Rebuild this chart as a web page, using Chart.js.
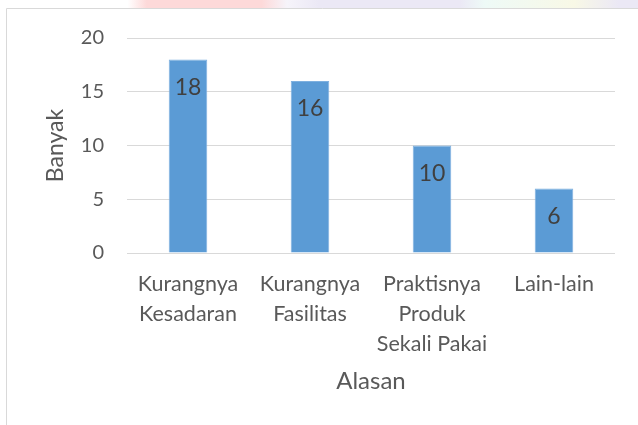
<!DOCTYPE html>
<html>
<head>
<meta charset="utf-8">
<script src="https://cdn.jsdelivr.net/npm/chart.js@4"></script>
<style>
  body { margin: 0; background: #fff; }
  canvas { display: block; }
</style>
</head>
<body>
<canvas id="myChart" width="638" height="425"></canvas>
<script>
let categories = [
  ["Kurangnya", "Kesadaran"],
  ["Kurangnya", "Fasilitas"],
  ["Praktisnya", "Produk", "Sekali Pakai"],
  ["Lain-lain"]
];
let banyak = [18, 16, 10, 6];
let yTicks = [0, 5, 10, 15, 20];

const FONT = "Lato, 'Open Sans', sans-serif";

// frame + faint band above the frame
const framePlugin = {
  id: 'frame',
  beforeDraw(chart) {
    const c = chart.ctx;
    c.save();
    let g = c.createLinearGradient(0, 0, 638, 0);
    g.addColorStop(0.0, '#ffffff');
    g.addColorStop(0.2, '#ffffff');
    g.addColorStop(0.23, '#fdd9d9');
    g.addColorStop(0.41, '#fdd9d9');
    g.addColorStop(0.45, '#f6f4fa');
    g.addColorStop(0.5, '#ebe8f5');
    g.addColorStop(0.72, '#ebe8f5');
    g.addColorStop(0.76, '#eefaf7');
    g.addColorStop(0.9, '#f8f8e6');
    g.addColorStop(0.97, '#ebe8f5');
    g.addColorStop(1.0, '#ebe8f5');
    c.fillStyle = g;
    c.fillRect(0, 0, 638, 8);
    c.strokeStyle = '#d9d9d9';
    c.lineWidth = 1;
    c.beginPath();
    c.moveTo(6.5, 425);
    c.lineTo(6.5, 8.5);
    c.lineTo(638, 8.5);
    c.stroke();
    c.restore();
  }
};

// value labels inside the top of each bar
const valueLabels = {
  id: 'valueLabels',
  afterDatasetsDraw(chart) {
    const c = chart.ctx;
    const meta = chart.getDatasetMeta(0);
    c.save();
    c.font = "23px " + FONT;
    c.fillStyle = '#404040';
    c.textAlign = 'center';
    c.textBaseline = 'middle';
    meta.data.forEach((bar, i) => {
      c.fillText(String(banyak[i]), bar.x, bar.y + 28);
    });
    c.restore();
  }
};

let ctx = document.getElementById('myChart').getContext('2d');

let barChart = new Chart(ctx, {
  type: 'bar',
  data: {
    labels: categories,
    datasets: [{
      label: 'Banyak',
      data: banyak,
      backgroundColor: '#5b9bd5',
      borderColor: '#7eb0df',
      borderWidth: 1,
      barPercentage: 0.316,
      categoryPercentage: 1
    }]
  },
  options: {
    responsive: false,
    animation: false,
    layout: { padding: { left: 0, top: 38, right: 23, bottom: 0 } },
    plugins: {
      legend: { display: false },
      tooltip: { enabled: false }
    },
    scales: {
      x: {
        grid: { display: false, drawTicks: false },
        border: { display: false },
        ticks: {
          color: '#595959',
          font: { family: FONT, size: 21.5, lineHeight: 1.4 },
          padding: 16,
          maxRotation: 0,
          autoSkip: false
        },
        title: {
          display: true,
          text: 'Alasan',
          color: '#595959',
          font: { family: FONT, size: 24, lineHeight: 1.2 },
          padding: { top: 0, bottom: 29 }
        },
        afterFit(scale) { scale.height = 172; }
      },
      y: {
        min: 0,
        max: 20,
        afterBuildTicks(scale) { scale.ticks = yTicks.map(v => ({ value: v })); },
        grid: { color: '#d9d9d9', lineWidth: 1, drawTicks: false },
        border: { display: false },
        ticks: {
          color: '#595959',
          font: { family: FONT, size: 20 },
          padding: 23
        },
        title: {
          display: true,
          text: 'Banyak',
          color: '#595959',
          font: { family: FONT, size: 23, lineHeight: 1.2 },
          padding: { top: 42, bottom: 0 }
        },
        afterFit(scale) { scale.width = 127; }
      }
    }
  },
  plugins: [framePlugin, valueLabels]
});
</script>
</body>
</html>
